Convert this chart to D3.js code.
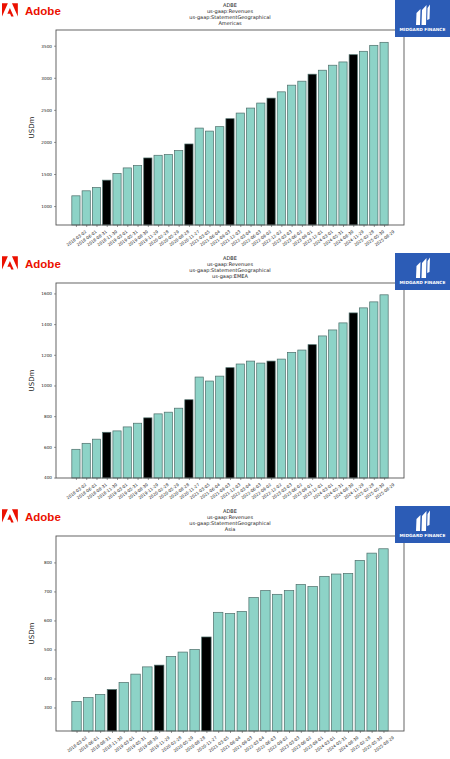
<!DOCTYPE html>
<html>
<head>
<meta charset="utf-8">
<script src="https://cdn.jsdelivr.net/npm/d3@7"></script>
<style>
  body { margin: 0; background: #fff; }
  svg { display: block; font-family: "DejaVu Sans", sans-serif; }
</style>
</head>
<body>
<div id="chart"></div>
<script>
// fiscal quarter end dates (Adobe)
const dates = ["2018-03-02", "2018-06-01", "2018-08-31", "2018-11-30", "2019-03-01", "2019-05-31",
  "2019-08-30", "2019-11-29", "2020-02-28", "2020-05-29", "2020-08-28", "2020-11-27",
  "2021-03-05", "2021-06-04", "2021-09-03", "2021-12-03", "2022-03-04", "2022-06-03",
  "2022-09-02", "2022-12-02", "2023-03-03", "2023-06-02", "2023-09-01", "2023-12-01",
  "2024-03-01", "2024-05-31", "2024-08-30", "2024-11-29", "2025-02-28", "2025-05-30", "2025-08-29"];

// Asia has no fiscal year-end rows after 2020
const asiaDates = ["2018-03-02", "2018-06-01", "2018-08-31", "2018-11-30", "2019-03-01", "2019-05-31",
  "2019-08-30", "2019-11-29", "2020-02-28", "2020-05-29", "2020-08-28", "2020-11-27",
  "2021-03-05", "2021-06-04", "2021-09-03", "2022-03-04", "2022-06-03", "2022-09-02",
  "2023-03-03", "2023-06-02", "2023-09-01", "2024-03-01", "2024-05-31", "2024-08-30",
  "2025-02-28", "2025-05-30", "2025-08-29"];

// fiscal year ends get drawn black
const yearEnds = ["2018-11-30", "2019-11-29", "2020-11-27", "2021-12-03", "2022-12-02", "2023-12-01", "2024-11-29"];

const americasValues = [1160, 1238, 1290, 1404, 1508, 1595, 1632, 1750, 1792, 1803, 1865, 1968,
  2216, 2169, 2238, 2362, 2450, 2528, 2606, 2683, 2781, 2885, 2947, 3056,
  3118, 3196, 3247, 3360, 3413, 3506, 3553];

const emeaValues = [584, 623, 650, 695, 704, 730, 754, 789, 815, 826, 852, 907,
  1055, 1029, 1061, 1116, 1140, 1159, 1146, 1159, 1172, 1216, 1231, 1266,
  1323, 1362, 1408, 1473, 1506, 1545, 1591];

const asiaValues = [321, 334, 345, 362, 386, 415, 440, 446, 476, 491, 500, 543,
  628, 624, 631, 679, 703, 690, 703, 724, 717, 752, 760, 762,
  807, 832, 847];

const titleLines = ["ADBE", "us-gaap:Revenues", "us-gaap:StatementGeographical"];
const segments = ["Americas", "us-gaap:EMEA", "Asia"];
const yLimits = [[705, 3745], [397, 1668], [219, 891]];

const panels = [
  { dates: dates, values: americasValues },
  { dates: dates, values: emeaValues },
  { dates: asiaDates, values: asiaValues }
];

const width = 450, panelH = 253;
const ax = { left: 56, right: 404, top: 30, bottom: 225 };

const svg = d3.select("#chart").append("svg")
  .attr("width", width)
  .attr("height", 759);

panels.forEach((p, i) => {
  const g = svg.append("g").attr("transform", "translate(0," + (i * panelH) + ")");
  drawPanel(g, p, segments[i], yLimits[i]);
});

function drawPanel(g, p, segment, ylim) {
  const n = p.values.length;
  const m = 0.05 * (n - 1 + 0.8);
  const x = d3.scaleLinear().domain([-0.4 - m, n - 1 + 0.4 + m]).range([ax.left, ax.right]);
  const y = d3.scaleLinear().domain(ylim).range([ax.bottom, ax.top]);
  const bw = x(0.8) - x(0);

  // title
  g.append("text")
    .attr("x", (ax.left + ax.right) / 2)
    .attr("y", 7)
    .attr("text-anchor", "middle")
    .attr("font-size", 5)
    .attr("fill", "#222")
    .selectAll("tspan")
    .data(titleLines.concat([segment]))
    .join("tspan")
    .attr("x", (ax.left + ax.right) / 2)
    .attr("dy", (d, j) => j == 0 ? 0 : 6.1)
    .text(d => d);

  // bars
  g.append("g")
    .selectAll("rect")
    .data(p.values)
    .join("rect")
    .attr("x", (d, j) => x(j) - bw / 2)
    .attr("y", d => y(d))
    .attr("width", bw)
    .attr("height", d => ax.bottom - y(d))
    .attr("fill", (d, j) => yearEnds.includes(p.dates[j]) ? "#000" : "#8dd3c7")
    .attr("stroke", "#4d6e6a")
    .attr("stroke-width", 0.7);

  // y axis
  const yAxis = g.append("g")
    .attr("transform", "translate(" + ax.left + ",0)")
    .call(d3.axisLeft(y).ticks(6).tickSize(2).tickPadding(2).tickFormat(d3.format("d")));
  yAxis.select(".domain").remove();
  yAxis.selectAll("line").attr("stroke", "#333").attr("stroke-width", 0.5);
  yAxis.selectAll("text").attr("font-size", 4.2).attr("fill", "#222").attr("font-family", "DejaVu Sans");

  // x axis with rotated, centred labels
  const xAxis = g.append("g")
    .attr("transform", "translate(0," + ax.bottom + ")")
    .call(d3.axisBottom(x).tickValues(d3.range(n)).tickSize(2).tickFormat(j => p.dates[j]));
  xAxis.select(".domain").remove();
  xAxis.selectAll("line").attr("stroke", "#333").attr("stroke-width", 0.5);
  xAxis.selectAll("text")
    .attr("font-size", 4.1)
    .attr("font-family", "DejaVu Sans")
    .attr("fill", "#222")
    .attr("y", 0)
    .attr("dy", "0.35em")
    .attr("text-anchor", "middle")
    .attr("transform", "translate(0,13.3) rotate(-37)");

  // frame
  g.append("rect")
    .attr("x", ax.left)
    .attr("y", ax.top)
    .attr("width", ax.right - ax.left)
    .attr("height", ax.bottom - ax.top)
    .attr("fill", "none")
    .attr("stroke", "#555")
    .attr("stroke-width", 0.9);

  // y label
  g.append("text")
    .attr("transform", "translate(34," + (ax.top + ax.bottom) / 2 + ") rotate(-90)")
    .attr("text-anchor", "middle")
    .attr("font-size", 7)
    .attr("fill", "#222")
    .text("USDm");

  drawAdobeLogo(g);
  drawMidgardLogo(g);
}

function drawAdobeLogo(g) {
  const logo = g.append("g").attr("transform", "translate(2,2.4) scale(0.66,0.62)");
  logo.append("path")
    .attr("d", "M13.966 22.624l-1.69-4.281H8.122l3.892-9.144 5.662 13.425zM8.884 1.376H0v21.248zm15.116 0h-8.884L24 22.624Z")
    .attr("fill", "#eb1000");
  g.append("text")
    .attr("x", 25)
    .attr("y", 14.5)
    .attr("font-family", "Liberation Sans, Arial, sans-serif")
    .attr("font-weight", "bold")
    .attr("font-size", 11.5)
    .attr("fill", "#eb1000")
    .text("Adobe");
}

function drawMidgardLogo(g) {
  const b = g.append("g").attr("transform", "translate(395,0)");
  b.append("rect").attr("width", 55).attr("height", 37).attr("fill", "#2c5cb6");
  // stylised mark
  b.append("path")
    .attr("d", "M21.5 13 L25.5 9 L25 25 L21 25 Z M27 10 L31.5 5 L31 25 L26.5 25 Z M32.5 8 L35 4.5 L34.5 19 L32.2 20 Z")
    .attr("fill", "#fff");
  b.append("text")
    .attr("x", 27.5)
    .attr("y", 30.5)
    .attr("text-anchor", "middle")
    .attr("font-family", "DejaVu Sans")
    .attr("font-weight", "bold")
    .attr("font-size", 4.3)
    .attr("fill", "#fff")
    .text("MIDGARD FINANCE");
}
</script>
</body>
</html>
